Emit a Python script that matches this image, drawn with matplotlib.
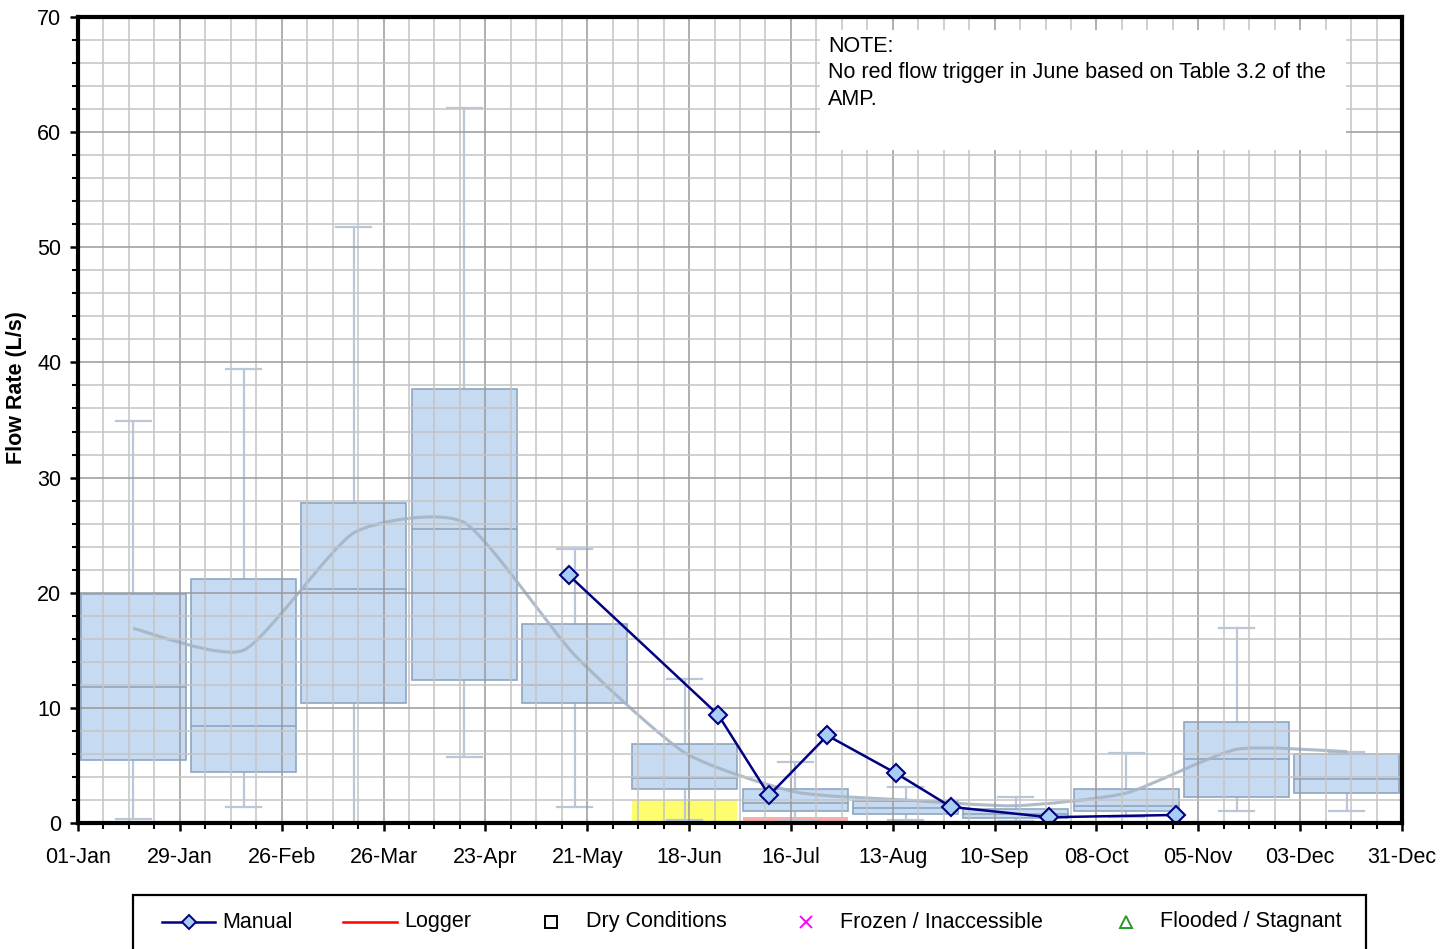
import datetime as dt
import numpy as np
import matplotlib
matplotlib.use("Agg")
import matplotlib.pyplot as plt
import matplotlib.dates as mdates
from matplotlib.path import Path
from matplotlib.patches import PathPatch, Rectangle
from matplotlib.lines import Line2D
from matplotlib.ticker import FixedLocator, MultipleLocator

plt.rcParams['font.family'] = ['Liberation Sans', 'DejaVu Sans']

# ---- monthly flow statistics (L/s) ----
months = ['Jan', 'Feb', 'Mar', 'Apr', 'May', 'Jun',
          'Jul', 'Aug', 'Sep', 'Oct', 'Nov', 'Dec']
whisker_low = [0.35, 1.4, 0.0, 5.7, 1.4, 0.3, 0.2, 0.3, 0.2, 0.5, 1.0, 1.0]
q1 = [5.5, 4.4, 10.4, 12.4, 10.4, 2.95, 1.0, 0.75, 0.45, 1.0, 2.3, 2.6]
median = [11.8, 8.4, 20.3, 25.5, 12.0, 3.9, 1.7, 1.3, 0.8, 1.5, 5.55, 3.8]
q3 = [19.9, 21.2, 27.8, 37.7, 17.3, 6.9, 2.95, 1.9, 1.25, 2.95, 8.8, 6.0]
whisker_high = [34.9, 39.4, 51.8, 62.1, 23.8, 12.5, 5.3, 3.1, 2.3, 6.1, 16.9, 6.2]
monthly_mean = [16.9, 15.0, 25.2, 26.1, 14.6, 6.1, 2.7, 2.0, 1.5, 2.6, 6.4, 6.2]

# ---- flow triggers ----
trigger_months = ['Jun', 'Jul']
trigger_levels = [2.0, 0.5]
trigger_colors = ['#fdfd6e', '#f6b0a8']

# ---- manual measurements ----
manual_dates = ['2021-05-16', '2021-06-26', '2021-07-10', '2021-07-26',
                '2021-08-14', '2021-08-29', '2021-09-25', '2021-10-30']
manual_flow = [21.5, 9.4, 2.4, 7.6, 4.3, 1.4, 0.5, 0.7]

tick_labels = ['01-Jan', '29-Jan', '26-Feb', '26-Mar', '23-Apr', '21-May', '18-Jun',
               '16-Jul', '13-Aug', '10-Sep', '08-Oct', '05-Nov', '03-Dec', '31-Dec']

note_text = "NOTE:\nNo red flow trigger in June based on Table 3.2 of the\nAMP."

FS = 15.5

# ---------------------------------------------------------------------------
W, H, DPI = 1454, 949, 100
fig = plt.figure(figsize=(W / DPI, H / DPI), dpi=DPI)
L, R, T, B = 78, 1402, 17, 823
ax = fig.add_axes([L / W, 1 - B / H, (R - L) / W, (B - T) / H])

start = mdates.date2num(dt.datetime(2021, 1, 1))
end = mdates.date2num(dt.datetime(2021, 12, 31))
span = end - start
slot = span / len(months)
centers = start + (np.arange(len(months)) + 0.5) * slot
box_w = slot * 0.95
cap_w = slot * 0.32

box_face = '#c6daf1'
box_edge = '#8ea6c2'
whisk_col = '#b8c8da'

# trigger fills
for m, lev, col in zip(trigger_months, trigger_levels, trigger_colors):
    i = months.index(m)
    ax.add_patch(Rectangle((centers[i] - box_w / 2, 0), box_w, lev,
                           facecolor=col, edgecolor='none', zorder=0.6))

# boxes and whiskers
for i in range(len(months)):
    c = centers[i]
    ax.plot([c, c], [whisker_low[i], q1[i]], color=whisk_col, lw=1.6, zorder=0.8)
    ax.plot([c, c], [q3[i], whisker_high[i]], color=whisk_col, lw=1.6, zorder=0.8)
    for v in (whisker_low[i], whisker_high[i]):
        ax.plot([c - cap_w / 2, c + cap_w / 2], [v, v], color=whisk_col, lw=1.6, zorder=0.8)
    ax.add_patch(Rectangle((c - box_w / 2, q1[i]), box_w, q3[i] - q1[i],
                           facecolor=box_face, edgecolor=box_edge, lw=1.2, zorder=1))
    ax.plot([c - box_w / 2, c + box_w / 2], [median[i], median[i]],
            color=box_edge, lw=1.2, zorder=1.1)

# lightly smoothed line through monthly means (cubic Bezier segments)
pts = np.column_stack([centers, monthly_mean])
verts = [tuple(pts[0])]
codes = [Path.MOVETO]
n = len(pts)
tension = 10.0
for k in range(n - 1):
    p0 = pts[k - 1] if k > 0 else pts[k]
    p1, p2 = pts[k], pts[k + 1]
    p3 = pts[k + 2] if k + 2 < n else pts[k + 1]
    c1 = p1 + (p2 - p0) / tension
    c2 = p2 - (p3 - p1) / tension
    verts += [tuple(c1), tuple(c2), tuple(p2)]
    codes += [Path.CURVE4] * 3
ax.add_patch(PathPatch(Path(verts, codes), facecolor='none',
                       edgecolor='#a6b4c4', lw=2.2, alpha=0.9, zorder=1.2))

# manual measurements
mdn = mdates.date2num([dt.datetime.strptime(d, '%Y-%m-%d') for d in manual_dates])
ax.plot(mdn, manual_flow, color='#000080', lw=1.8, marker='D', ms=9,
        mfc='#a8cdf5', mec='#000080', mew=1.5, zorder=4)

# axes, ticks, grid
ax.set_xlim(start, end)
ax.set_ylim(0, 70)
major_x = start + np.arange(0, 365, 28)
minor_x = start + np.arange(0, 365, 7)
ax.xaxis.set_major_locator(FixedLocator(major_x))
ax.xaxis.set_minor_locator(FixedLocator(minor_x))
ax.set_xticklabels(tick_labels)
ax.yaxis.set_major_locator(MultipleLocator(10))
ax.yaxis.set_minor_locator(MultipleLocator(2))

ax.set_axisbelow(False)
ax.grid(which='minor', color='#c4c4c4', lw=1.1)
ax.grid(which='major', color='#9a9a9a', lw=1.1)

for s in ax.spines.values():
    s.set_linewidth(3.0)
    s.set_color('black')
    s.set_zorder(5)

ax.tick_params(axis='both', which='major', direction='out', length=6, width=1.8,
               labelsize=FS, color='black')
ax.tick_params(axis='both', which='minor', direction='out', length=4, width=1.5,
               color='black')
ax.tick_params(axis='x', which='major', pad=11)
ax.tick_params(axis='y', which='major', pad=6)

ax.set_ylabel('Flow Rate (L/s)', fontsize=FS, fontweight='bold')
ax.yaxis.label.set_verticalalignment('center')
ax.yaxis.label.set_horizontalalignment('center')
ax.yaxis.set_label_coords((17 - L) / (R - L), (B - 388) / (B - T))

# overlay in pixel coordinates for note and legend
ov = fig.add_axes([0, 0, 1, 1], zorder=10)
ov.set_xlim(0, W)
ov.set_ylim(H, 0)
ov.axis('off')
ov.patch.set_alpha(0)

ov.add_patch(Rectangle((820, 30), 526, 120, facecolor='white', edgecolor='none'))
ov.text(828, 36, note_text, fontsize=FS, va='top', ha='left', linespacing=1.33)

ov.add_patch(Rectangle((133, 895), 1233, 80, facecolor='white', edgecolor='black',
                       lw=1.6, clip_on=False))
ly = 922
ov.add_line(Line2D([162, 215], [ly, ly], color='#000080', lw=1.8))
ov.add_line(Line2D([188.5], [ly], marker='D', ms=7, mfc='#a8cdf5', mec='#000080', mew=1.4))
ov.text(222, ly, 'Manual', fontsize=FS, va='center')
ov.add_line(Line2D([343, 397], [ly, ly], color='red', lw=1.8))
ov.text(404, ly, 'Logger', fontsize=FS, va='center')
ov.add_line(Line2D([551], [ly], marker='s', ms=8, mfc='white', mec='black', mew=1.4))
ov.text(586, ly, 'Dry Conditions', fontsize=FS, va='center')
ov.add_line(Line2D([806], [ly], marker='x', ms=8, color='magenta', mew=1.4))
ov.text(840, ly, 'Frozen / Inaccessible', fontsize=FS, va='center')
ov.add_line(Line2D([1126], [ly], marker='^', ms=9, mfc='white', mec='#2a9a2a', mew=1.4))
ov.text(1160, ly, 'Flooded / Stagnant', fontsize=FS, va='center')

fig.savefig('out.png', dpi=DPI)
